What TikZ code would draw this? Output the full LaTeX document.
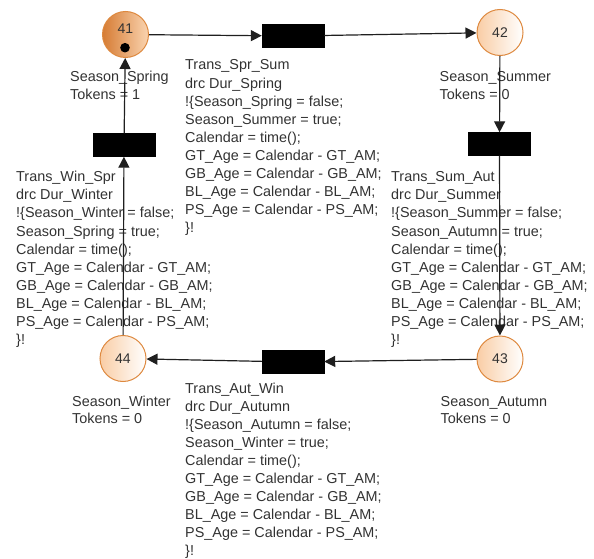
\documentclass[tikz,border=0pt]{standalone}
\usepackage{fontspec}
\setmainfont{Liberation Sans}
\usetikzlibrary{arrows.meta}
\definecolor{txt}{RGB}{50,50,50}
\definecolor{rim}{RGB}{222,137,63}
\definecolor{darkfill}{RGB}{214,124,52}
\definecolor{midfill}{RGB}{250,212,176}
\definecolor{palefill}{RGB}{249,205,165}
\tikzset{
  place/.style={circle, minimum size=46pt, inner sep=0pt, draw=rim, line width=1pt},
  liveplace/.style={place, left color=darkfill, right color=midfill},
  idleplace/.style={place, left color=palefill, right color=white},
  trans/.style={rectangle, fill=black, draw=black, minimum width=62pt, minimum height=23pt, inner sep=0pt},
  arc/.style={-{Triangle[length=11pt,width=11pt]}, line width=1.2pt, draw=black!88, shorten >=0pt},
  num/.style={inner sep=0pt, text=txt, font=\fontsize{14}{17}\selectfont},
  code/.style={anchor=base west, inner sep=0pt, text=txt, font=\fontsize{14.4}{18.1}\selectfont},
  plab/.style={anchor=base west, inner sep=0pt, text=txt, font=\fontsize{14.4}{17.8}\selectfont},
}
\begin{document}
\begin{tikzpicture}[x=1pt,y=-1pt]
\useasboundingbox (0,0) rectangle (594,559);

% places
\node[liveplace] (p41) at (125.5,34.5) {};
\node[idleplace] (p42) at (500,32.5) {};
\node[idleplace] (p43) at (500,359) {};
\node[idleplace] (p44) at (123,358.5) {};
\node[num] (n41) at (125.5,28.5) {41};
\node[num] (n42) at (500,32.5) {42};
\node[num] (n43) at (500,359) {43};
\node[num] (n44) at (123,358.5) {44};
\fill[black] (125,47.7) circle (4.8);

% transitions
\node[trans] (t1) at (293,36) {};
\node[trans] (t2) at (499.5,144) {};
\node[trans] (t3) at (293,362) {};
\node[trans] (t4) at (124,145) {};

% place labels
\node[plab] (s41) at (70,81.7) {\begin{tabular}[t]{@{}l@{}}Season\_Spring\\Tokens = 1\end{tabular}};
\node[plab] (s42) at (439.5,81.5) {\begin{tabular}[t]{@{}l@{}}Season\_Summer\\Tokens = 0\end{tabular}};
\node[plab] (s43) at (440.5,406) {\begin{tabular}[t]{@{}l@{}}Season\_Autumn\\Tokens = 0\end{tabular}};
\node[plab] (s44) at (72,406) {\begin{tabular}[t]{@{}l@{}}Season\_Winter\\Tokens = 0\end{tabular}};

% transition code
\node[code] (c1) at (185,70) {\begin{tabular}[t]{@{}l@{}}Trans\_Spr\_Sum\\drc Dur\_Spring\\!\{Season\_Spring = false;\\Season\_Summer = true;\\Calendar = time();\\GT\_Age = Calendar - GT\_AM;\\GB\_Age = Calendar - GB\_AM;\\BL\_Age = Calendar - BL\_AM;\\PS\_Age = Calendar - PS\_AM;\\\}!\end{tabular}};
\node[code] (c2) at (391,181.7) {\begin{tabular}[t]{@{}l@{}}Trans\_Sum\_Aut\\drc Dur\_Summer\\!\{Season\_Summer = false;\\Season\_Autumn = true;\\Calendar = time();\\GT\_Age = Calendar - GT\_AM;\\GB\_Age = Calendar - GB\_AM;\\BL\_Age = Calendar - BL\_AM;\\PS\_Age = Calendar - PS\_AM;\\\}!\end{tabular}};
\node[code] (c3) at (185,393) {\begin{tabular}[t]{@{}l@{}}Trans\_Aut\_Win\\drc Dur\_Autumn\\!\{Season\_Autumn = false;\\Season\_Winter = true;\\Calendar = time();\\GT\_Age = Calendar - GT\_AM;\\GB\_Age = Calendar - GB\_AM;\\BL\_Age = Calendar - BL\_AM;\\PS\_Age = Calendar - PS\_AM;\\\}!\end{tabular}};
\node[code] (c4) at (16,181.7) {\begin{tabular}[t]{@{}l@{}}Trans\_Win\_Spr\\drc Dur\_Winter\\!\{Season\_Winter = false;\\Season\_Spring = true;\\Calendar = time();\\GT\_Age = Calendar - GT\_AM;\\GB\_Age = Calendar - GB\_AM;\\BL\_Age = Calendar - BL\_AM;\\PS\_Age = Calendar - PS\_AM;\\\}!\end{tabular}};

% arcs
\draw[arc] (p41) -- (t1);
\draw[arc] (t1) -- (p42);
\draw[arc] (p42) -- (t2);
\draw[arc] (t2) -- (p43);
\draw[arc] (p43) -- (t3);
\draw[arc] (t3) -- (p44);
\draw[arc] (p44) -- (t4);
\draw[arc] (t4) -- (p41);
\end{tikzpicture}
\end{document}
